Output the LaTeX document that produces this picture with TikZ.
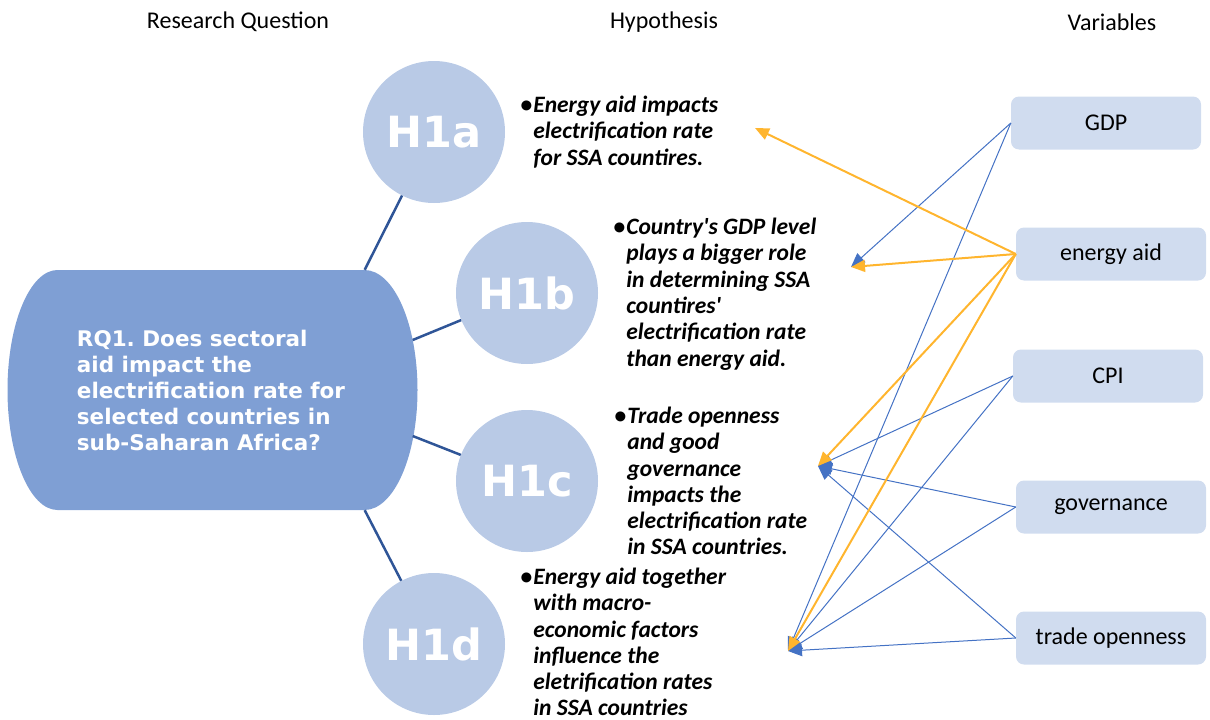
\documentclass[tikz,border=0pt]{standalone}
\usepackage{fontspec}
\setmainfont{Carlito}
\newfontfamily\verdsans{DejaVu Sans}
\usetikzlibrary{positioning,calc,arrows.meta}
\definecolor{rqblue}{HTML}{7F9FD4}
\definecolor{circblue}{HTML}{B9CAE6}
\definecolor{boxblue}{HTML}{D0DCEF}
\definecolor{spokeblue}{HTML}{2F5597}
\definecolor{aidorange}{HTML}{FFB52E}
\definecolor{linkblue}{HTML}{4472C4}
\frenchspacing

\begin{document}
\begin{tikzpicture}[x=1pt, y=-1pt,
        header/.style={font=\fontsize{24}{29}\selectfont},
        rqshape/.style={rectangle, minimum width=307pt, minimum height=240pt, inner sep=0pt,
            align=left, text=white, font=\verdsans\bfseries\fontsize{21.5}{26}\selectfont},
        hypcirc/.style={circle, fill=circblue, minimum size=142pt, inner sep=0pt, text=white,
            font=\verdsans\bfseries\fontsize{43}{50}\selectfont},
        hyptext/.style={align=left, inner sep=0pt, font=\bfseries\itshape\fontsize{23.5}{26.3}\selectfont},
        varbox/.style={rounded corners=8pt, fill=boxblue, minimum width=190pt, minimum height=53pt,
            font=\fontsize{24}{29}\selectfont},
        spoke/.style={spokeblue, line width=2.5pt},
        aidarrow/.style={aidorange, line width=2pt, >={Triangle[length=14pt,width=12pt]}, ->},
        linkarrow/.style={linkblue, line width=1pt, >={Triangle[length=14pt,width=12pt]}, ->}
    ]
        \useasboundingbox (0,0) rectangle (1210,720);

        \node[header] (hdrq) at (238,22) {Research Question};
        \node[header] (hdhyp) at (664,22) {Hypothesis};
        \node[header] (hdvar) at (1112,22) {Variables};

        % research question: flat top and bottom, elliptic sides
        \fill[rqblue] (211,270) ++(-153.5,0) -- ++(307,0)
            arc[start angle=90, end angle=-90, x radius=53pt, y radius=120pt]
            -- ++(-307,0)
            arc[start angle=270, end angle=90, x radius=50pt, y radius=120pt] -- cycle;
        \node[rqshape] (rq) at (211,390) {RQ1. Does sectoral\\aid impact the\\electrification rate for\\selected countries in\\sub-Saharan Africa?};
        \coordinate (rqb) at ($(rq.east)+(48,-50)$);
        \coordinate (rqc) at ($(rq.east)+(48,46)$);

        \foreach \n/\x/\y in {a/434/132, b/527/293, c/527/481, d/434/644} {
            \node[hypcirc] (h1\n) at (\x,\y) {H1\n};
        }
        \foreach \s/\h in {rq.north east/h1a, rqb/h1b, rqc/h1c, rq.south east/h1d} {
            \draw[spoke] (\s) -- (\h);
        }

        \node[hyptext, right=28pt of h1a] (txta) {\llap{\upshape\textbullet\hspace{1pt}}Energy aid impacts\\electrification rate\\for SSA countires.};
        \node[hyptext, right=28pt of h1b, yshift=-1pt] (txtb) {\llap{\upshape\textbullet\hspace{1pt}}Country\textquotesingle s GDP level\\plays a bigger role\\in determining SSA\\countires\textquotesingle\\electrification rate\\than energy aid.};
        \node[hyptext, right=29pt of h1c] (txtc) {\llap{\upshape\textbullet\hspace{1pt}}Trade openness\\and good\\governance\\impacts the\\electrification rate\\in SSA countries.};
        \node[hyptext, right=28pt of h1d, yshift=2pt] (txtd) {\llap{\upshape\textbullet\hspace{1pt}}Energy aid together\\with macro-\\economic factors\\influence the\\eletrification rates\\in SSA countries};

        \node[varbox] (gdp) at (1106,123) {GDP};
        \node[varbox] (aid) at (1111,254) {energy aid};
        \node[varbox] (cpi) at (1108,376) {CPI};
        \node[varbox] (gov) at (1111,507) {governance};
        \node[varbox] (trade) at (1111,638) {trade openness};

        % arrow tips next to the hypotheses
        \coordinate (tipa) at (755,128);
        \coordinate (tipb) at (851,267);
        \coordinate (tipc) at (818,466);
        \coordinate (tipd) at (788,651);

        \foreach \v/\t in {gdp/tipb, gdp/tipd, cpi/tipc, cpi/tipd, gov/tipc, gov/tipd, trade/tipc, trade/tipd} {
            \draw[linkarrow] (\v.west) -- (\t);
        }
        \foreach \t in {tipa, tipb, tipc, tipd} {
            \draw[aidarrow] (aid.west) -- (\t);
        }
    \end{tikzpicture}
\end{document}
